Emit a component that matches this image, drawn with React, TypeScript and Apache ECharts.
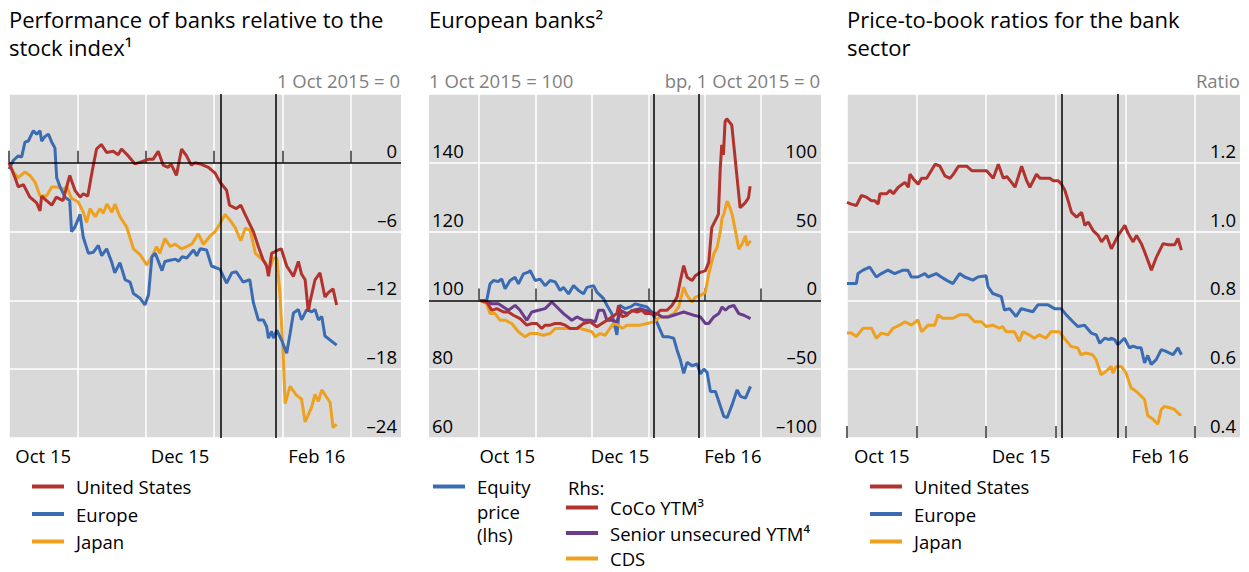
import React, { useEffect, useRef } from 'react';
import * as echarts from 'echarts';

const FONT = '"Open Sans", "Noto Sans", "DejaVu Sans", sans-serif';
const RED = '#b2322d';
const BLUE = '#3b6cb3';
const ORANGE = '#eea01f';
const PURPLE = '#6a3c8c';
const GREY_BG = '#d9d9d9';

// x unit: days since 1 Oct 2015 (months evenly spaced at 30.4)
const monthTicks = [0, 30.4, 60.8, 91.2, 121.6, 152];
const monthLabelPos = [15.2, 76, 136.8];
const monthLabels = ['Oct 15', 'Dec 15', 'Feb 16'];
const eventDays = [94, 118.5]; // 4 Jan 2016, 29 Jan 2016

// Panel 1: performance relative to stock index (1 Oct 2015 = 0)
const usPerf = [[0,0],[2.7,-1.3],[4.1,-2.1],[6.4,-1.9],[9.3,-3.0],[12.3,-3.5],[13.8,-4.2],[14.5,-2.9],[16.7,-3.3],[19,-3.7],[21,-3.0],[24,-3.3],[27,-1.1],[29.3,-2.4],[31.6,-3.0],[33,-2.7],[35,-2.9],[37,-0.7],[38.9,1.2],[41,1.6],[43.4,0.9],[46.3,1.0],[48.5,0.7],[50,1.2],[53,0.6],[56,-0.1],[59,0.1],[61.9,0.3],[64,0.3],[66.3,1.0],[68.5,-0.2],[70.7,-0.4],[72,-0.1],[74.4,-1.1],[76.7,1.2],[78.9,0.6],[81,-0.2],[82.7,0],[84.9,-0.1],[88.6,-0.4],[91.6,-0.9],[93.8,-1.7],[96.7,-2.4],[98,-3.7],[101,-4.0],[103,-3.7],[104.9,-4.5],[108.6,-6.0],[110.8,-7.3],[113,-8.5],[114.5,-9.0],[115.3,-9.9],[116.7,-7.9],[119.7,-7.6],[121,-7.5],[123.4,-9.0],[126.4,-9.9],[128.6,-8.6],[130,-9.7],[131.6,-10.2],[133,-13.0],[133.8,-12.1],[136,-10.2],[138.2,-9.6],[140.4,-11.7],[142,-11.3],[144,-11.0],[145.6,-12.4]];
const euPerf = [[0,-0.55],[1.9,0.2],[4.1,0.6],[5.6,0.5],[7.1,1.8],[8.6,1.9],[10.8,2.8],[12.3,2.5],[13.8,2.8],[14.5,1.9],[16,2.3],[17.5,2.5],[19,1.8],[20.4,1.3],[21.2,-1.3],[22.7,-2.1],[24.9,-3.0],[27,-3.3],[27.8,-6.0],[29.3,-5.6],[31.6,-4.5],[33,-6.5],[35.3,-7.9],[37.5,-7.8],[39.7,-7.2],[41.2,-8.1],[43.4,-7.5],[45.7,-8.7],[47,-9.6],[49.3,-8.7],[51.6,-10.2],[53.8,-10.4],[55.3,-11.4],[58.2,-11.8],[60.4,-12.4],[62,-11.5],[63.5,-8.2],[65,-7.9],[66.4,-8.6],[68,-9.4],[69.3,-8.6],[71.6,-8.5],[74,-8.4],[75.3,-8.6],[77,-8.2],[79,-8.3],[82,-7.6],[83.4,-8.1],[85,-7.5],[87.8,-7.6],[90,-9.0],[93.8,-9.3],[96.7,-10.5],[99,-9.6],[101,-9.5],[104,-10.4],[107,-10.2],[108.6,-12.2],[110.8,-13.7],[113,-13.7],[114.5,-14.3],[115.3,-15.3],[116.7,-14.7],[117.5,-15.3],[119,-14.6],[121.2,-15.5],[123.4,-16.6],[124.9,-14.9],[126.4,-13.1],[128.6,-12.8],[130,-13.7],[132.3,-12.8],[134.5,-13.0],[136,-12.8],[137.5,-13.7],[139,-13.4],[140.4,-15.1],[145.6,-15.9]];
const jpPerf = [[0,0],[1.9,-0.8],[4.1,-1.3],[7.1,-0.8],[9.3,-1.1],[11.6,-1.7],[13.8,-2.9],[16.7,-2.9],[19,-2.1],[21.2,-2.1],[24,-2.3],[25.7,-2.1],[27.8,-3.1],[30.7,-3.4],[33,-4.3],[34.5,-5.2],[36,-4.0],[38.3,-4.7],[40.4,-4.0],[41.9,-4.4],[43.5,-3.6],[45.7,-4.3],[47.1,-3.6],[49.3,-4.7],[52.3,-5.6],[55.3,-7.5],[58.2,-8.0],[61.2,-8.9],[63.5,-8.2],[65.6,-7.3],[67,-7.9],[69.3,-6.6],[71.6,-7.3],[73.8,-7.1],[76.7,-7.5],[79,-7.3],[81.2,-7.1],[84.1,-6.2],[86.4,-7.1],[89.3,-6.4],[91.6,-6.0],[93.8,-5.3],[96,-4.5],[98.2,-5.0],[100.4,-5.6],[103,-6.8],[105,-5.7],[107.2,-5.9],[109.5,-7.9],[111.7,-8.3],[114,-8.7],[115.3,-9.6],[117.5,-8.3],[119,-8.3],[120.4,-11.4],[121.9,-16.9],[122.7,-21.0],[124.9,-19.5],[127.9,-20.3],[130,-20.6],[131.6,-22.6],[134.5,-21.3],[136,-20.2],[137.5,-20.8],[139,-19.8],[142.7,-20.9],[144,-23.1],[145.6,-22.8]];

// Panel 2: European banks
const equityPrice = [[0.5,100],[4.1,100],[5.9,104.8],[7.7,105.8],[10.4,105.5],[12.2,106.2],[14,103.4],[16.7,105.8],[19.4,106.7],[21.2,104.8],[23.9,107.7],[26.6,108.2],[27.5,108.7],[30.2,105.8],[32.9,106.2],[35.6,104.3],[38.3,105.8],[41,105.4],[43.7,102.9],[45.5,103.8],[48.2,101.9],[50.9,104.3],[53.6,102.9],[56.3,101.9],[58.1,103.8],[61.7,104.3],[63.5,102.4],[67.1,100.5],[68.9,98.6],[71.5,96.2],[74.3,90.0],[75.8,98.6],[78.8,97.6],[81.5,98.1],[84.2,99.0],[86.9,98.6],[90.5,98.1],[93,96.6],[95.8,93.7],[99.2,89.4],[102.2,89.4],[104.9,89.0],[106.7,85.6],[108.5,82.7],[110.3,78.8],[112.1,82.0],[114.8,81.0],[117.5,81.5],[119.3,78.6],[121.1,80.0],[122.9,79.1],[124.7,73.5],[127.4,73.5],[130.1,69.2],[131.9,66.3],[133.7,65.9],[136.4,69.7],[139.1,74.0],[140.9,72.1],[143.6,71.6],[146.3,75.0]];
const cocoYtm = [[0.5,0],[4.1,-1.2],[6.8,-7.2],[9.5,-6],[13.1,-8.4],[15.8,-8.4],[18.5,-10.8],[22.1,-13.2],[25.7,-18],[28.4,-16.8],[31.1,-16.8],[33.8,-20.4],[35.6,-18],[38.3,-18],[41,-16.8],[43.7,-16.8],[46.4,-18],[49.1,-20.4],[52.7,-20.4],[56.3,-16.8],[59.9,-15.6],[63.5,-19.2],[66.2,-16.8],[68.9,-14.4],[71.6,-12],[74.3,-9.6],[75.2,-3.6],[77,-12],[79.7,-10.8],[82.4,-7.2],[85.1,-8.4],[87.8,-7.2],[89.6,-9.6],[92.3,-9.6],[95,-10.8],[97.7,-7.2],[101.3,-7.2],[104,-3.6],[106.7,2.4],[108.5,14.4],[110.3,25.3],[112.1,16.9],[114.8,14.4],[116.6,18],[119.3,20.4],[122,21.6],[123.8,27.6],[125.4,52.9],[129,62.5],[130,96],[130.8,113],[131.7,105.8],[132.6,130],[133.5,132],[136.2,127.5],[138.9,91.4],[140.7,67.3],[143.4,70.9],[145.2,74.5],[146.1,83]];
const seniorYtm = [[0.5,0],[4.1,-1.2],[6.8,-2.4],[10.4,-2.4],[13.1,-4.8],[15.8,-7.2],[19.4,-3.6],[22.1,-7.2],[25.7,-14.4],[28.4,-8.4],[32,-7.2],[35.6,-6],[39.2,-1.2],[41.9,-4.8],[45.5,-9.6],[50,-14.4],[52.7,-12],[56.3,-14.4],[59.9,-14.4],[62.6,-15.6],[64.4,-7.2],[67.1,-7.2],[68.9,-14.4],[71.6,-14.4],[74.3,-15.6],[76.1,-7.2],[79.7,-9.6],[83.3,-7.2],[86.9,-6],[89.6,-7.2],[92.3,-8.4],[95.9,-9.6],[98.6,-12],[102.2,-12],[104.9,-10.8],[107.6,-9.6],[110.3,-8.4],[113,-9.6],[115.7,-10.8],[119.3,-12],[122,-16.8],[123.8,-16.8],[126.5,-12],[129.2,-9.6],[131,-4.8],[132.8,-7.2],[134.6,-4.8],[137.3,-3.6],[140,-9.6],[142.7,-10.8],[146.3,-13.2]];
const cds = [[0.5,0],[4.1,-2.4],[5.9,-9.6],[8.6,-9.6],[11.3,-14.4],[14,-14.4],[17.6,-16.8],[21.2,-22.8],[24.8,-26.5],[27.5,-24.1],[31.1,-24.1],[34.7,-25.3],[38.3,-24.1],[41,-20.4],[43.7,-20.4],[47.3,-20.4],[50.9,-20.4],[54.5,-20.4],[58.1,-21.7],[60.8,-22.8],[62.6,-26.5],[65.3,-24.1],[68,-25.3],[69.8,-21.7],[72.5,-16.8],[75.2,-18],[77,-20.4],[79.7,-18],[83.3,-18],[86.9,-18],[90.5,-16.8],[94.1,-15.6],[97.7,-12],[101.3,-12],[104.9,-9.6],[107.6,-4.8],[110.3,9.6],[112.1,3.6],[114.8,-1.2],[116.6,2.4],[119.3,3.6],[122,6],[123.8,19.2],[126.5,33.7],[128.3,38.5],[130.1,50.5],[131,60.1],[131.9,62.5],[133.7,72.2],[134.6,69.8],[136.4,62.5],[138.2,50.5],[140,37.3],[141.8,41],[143.6,46.9],[144.5,39.7],[146.3,43.3]];

// Panel 3: price-to-book ratios
const usPb = [[0,1.085],[1.9,1.08],[4.1,1.076],[6.3,1.105],[8.5,1.1],[10.7,1.09],[12.1,1.09],[13.6,1.08],[14.4,1.11],[17.3,1.11],[18.8,1.12],[20.2,1.11],[22.4,1.129],[25.3,1.143],[26.8,1.129],[27.5,1.167],[29,1.153],[31.1,1.138],[32.6,1.155],[34.8,1.155],[38.5,1.196],[40.6,1.19],[42.8,1.162],[45,1.155],[46.5,1.167],[48.7,1.19],[52.3,1.19],[54.5,1.177],[61,1.177],[63.9,1.155],[66.1,1.196],[68.3,1.155],[69.8,1.16],[71.9,1.143],[73.4,1.129],[76.3,1.19],[78.5,1.148],[79.9,1.129],[82.8,1.167],[84.3,1.155],[88.6,1.155],[90.1,1.148],[92.3,1.148],[93.7,1.138],[95.2,1.12],[96.6,1.09],[98.1,1.056],[100.3,1.042],[102.5,1.056],[103.9,1.018],[105.4,1.028],[107.5,1.003],[109.7,0.989],[111.2,0.97],[113.4,0.989],[115.5,0.95],[118.5,0.989],[121.4,1.018],[122.8,0.995],[125,0.97],[126.5,0.989],[128.6,0.965],[130.1,0.94],[133,0.888],[135.2,0.926],[138.1,0.965],[140.3,0.962],[143.2,0.962],[144.6,0.98],[146.1,0.946]];
const euPb = [[0,0.849],[4.1,0.849],[4.8,0.878],[7,0.888],[9.9,0.897],[12.8,0.868],[15,0.878],[17.9,0.888],[20.8,0.878],[24.5,0.888],[26.6,0.888],[28.1,0.868],[31,0.868],[34,0.878],[35.4,0.868],[39,0.878],[41.2,0.868],[43.4,0.859],[46.3,0.849],[49.2,0.878],[51.4,0.868],[55,0.859],[57.2,0.868],[60.8,0.872],[61.6,0.84],[63.7,0.82],[67.4,0.811],[68.8,0.772],[71,0.776],[73.9,0.753],[76.1,0.776],[78.3,0.772],[81.2,0.767],[83.4,0.787],[87.8,0.787],[90.7,0.776],[93.6,0.776],[95.8,0.758],[98.7,0.738],[100.9,0.724],[103.8,0.728],[106.7,0.705],[108.9,0.7],[110.4,0.676],[112.6,0.69],[114.7,0.686],[115.4,0.69],[116.9,0.686],[118.3,0.671],[121.2,0.69],[123.4,0.662],[124.9,0.667],[127,0.662],[128.5,0.662],[130,0.618],[131.4,0.64],[132.9,0.614],[135.1,0.628],[137.3,0.657],[139.4,0.652],[142.4,0.642],[144.6,0.662],[146.1,0.642]];
const jpPb = [[0,0.705],[1.9,0.705],[4.1,0.695],[7,0.719],[10.7,0.719],[12.8,0.69],[15,0.705],[17.9,0.7],[20.1,0.719],[23,0.728],[25.3,0.738],[28.1,0.728],[31,0.743],[32.6,0.709],[35.4,0.728],[38.3,0.728],[39.8,0.758],[41.9,0.748],[46.3,0.748],[49.2,0.758],[52.9,0.758],[55.8,0.738],[58.7,0.738],[60.8,0.724],[63.7,0.728],[66.6,0.719],[68,0.724],[69.5,0.709],[73.1,0.709],[75.3,0.681],[76.8,0.709],[79.6,0.7],[81.8,0.69],[84,0.7],[86.9,0.69],[89.1,0.709],[92.8,0.709],[94.9,0.69],[97.9,0.666],[100.8,0.662],[102.2,0.642],[104.4,0.647],[107.3,0.642],[108.8,0.628],[111,0.584],[113.2,0.594],[115.4,0.608],[116.2,0.589],[117.6,0.608],[119.8,0.608],[121.9,0.589],[124.1,0.546],[126.3,0.536],[128.5,0.522],[130,0.512],[131.4,0.465],[133.6,0.455],[135.8,0.44],[137.3,0.483],[138.7,0.492],[140.9,0.488],[143.1,0.483],[145.3,0.468],[146.1,0.468]];

const TEXT = 18.5;

function xAxisFor(gridIndex: number, min: number, max: number) {
  return {
    type: 'value', gridIndex, min, max,
    axisLine: { show: false },
    axisTick: { show: true, inside: true, length: 12, customValues: monthTicks, lineStyle: { color: '#333', width: 1.5 } },
    axisLabel: {
      customValues: monthLabelPos,
      formatter: (v: number) => {
        const i = monthLabelPos.findIndex((p) => Math.abs(p - v) < 0.01);
        return i >= 0 ? monthLabels[i] : '';
      },
      fontSize: TEXT, color: '#000', fontFamily: FONT, margin: 8,
    },
    splitLine: { show: true, lineStyle: { color: '#fff', width: 1.5 } },
  };
}

const dash = (v: number, digits = 0) => (v < 0 ? '\u2013' + (-v).toFixed(digits) : v.toFixed(digits));

function yAxisFor(gridIndex: number, position: string, min: number, max: number, interval: number, fmt: (v: number) => string, margin: number, split = true) {
  return {
    type: 'value', gridIndex, position, min, max, interval,
    axisLine: { show: false }, axisTick: { show: false },
    axisLabel: {
      inside: true, showMaxLabel: false, verticalAlign: 'bottom', margin,
      padding: [0, 0, 3, 0],
      formatter: fmt, fontSize: TEXT, color: '#000', fontFamily: FONT,
    },
    splitLine: { show: split, lineStyle: { color: '#fff', width: 1.5 } },
  };
}

function line(name: string, data: number[][], color: string, xAxisIndex: number, yAxisIndex: number, extra: any = {}) {
  return {
    type: 'line', name, data, xAxisIndex, yAxisIndex,
    showSymbol: false, symbol: 'none', color,
    lineStyle: { color, width: 3 },
    z: 3,
    ...extra,
  };
}

function refLines(withZero: boolean) {
  const data: any[] = eventDays.map((d) => ({ xAxis: d }));
  if (withZero) data.push({ yAxis: 0 });
  return {
    markLine: {
      silent: true, symbol: ['none', 'none'], label: { show: false },
      lineStyle: { color: '#000', width: 1.5, type: 'solid' },
      emphasis: { disabled: true },
      data,
    },
  };
}

const legendBase = {
  orient: 'vertical', itemGap: 8.5, itemWidth: 32, itemHeight: 4, icon: 'rect', padding: 0,
  selectedMode: false, height: 120,
  textStyle: { fontSize: TEXT, lineHeight: 18, color: '#000', fontFamily: FONT, padding: [0, 0, 0, 7] },
};

const titleStyle = { fontSize: 22, fill: '#000', fontFamily: FONT, verticalAlign: 'middle', align: 'left' };
const unitStyle = { fontSize: TEXT, fill: '#808080', fontFamily: FONT, verticalAlign: 'middle' };
const textStyle = { fontSize: TEXT, fill: '#000', fontFamily: FONT, verticalAlign: 'middle' };

export default function App() {
  const ref = useRef<HTMLDivElement>(null);
  useEffect(() => {
    if (!ref.current) return;
    const chart = echarts.init(ref.current, null, { renderer: 'svg' });
    const gridBase = { show: true, backgroundColor: GREY_BG, borderWidth: 0, top: 94, height: 344 };
    chart.setOption({
      animation: false,
      textStyle: { fontFamily: FONT },
      grid: [
        { ...gridBase, left: 9, width: 392 },
        { ...gridBase, left: 429, width: 392 },
        { ...gridBase, left: 847, width: 393 },
      ],
      xAxis: [xAxisFor(0, 0, 174.2), xAxisFor(1, -27, 184.3), xAxisFor(2, 0, 171.7)],
      yAxis: [
        yAxisFor(0, 'right', -24, 6, 6, (v) => dash(v), 4),
        yAxisFor(1, 'left', 60, 160, 20, (v) => v.toFixed(0), 3),
        yAxisFor(1, 'right', -100, 150, 50, (v) => dash(v), 4, false),
        yAxisFor(2, 'right', 0.4, 1.4, 0.2, (v) => v.toFixed(1), 4),
      ],
      legend: [
        { ...legendBase, data: ['United States', 'Europe', 'Japan'], left: 32, top: 477 },
        { ...legendBase, data: ['Equity price (lhs)'], left: 433, top: 477, formatter: () => 'Equity' },
        { ...legendBase, data: ['CoCo YTM\u00b3', 'Senior unsecured YTM\u2074', 'CDS'], left: 566, top: 498, itemGap: 6.5 },
        { ...legendBase, data: ['United States', 'Europe', 'Japan'], left: 870, top: 477 },
      ],
      series: [
        line('Japan', jpPerf, ORANGE, 0, 0, refLines(true)),
        line('Europe', euPerf, BLUE, 0, 0),
        line('United States', usPerf, RED, 0, 0),

        line('Equity price (lhs)', equityPrice, BLUE, 1, 1),
        line('CDS', cds, ORANGE, 1, 2, refLines(true)),
        line('Senior unsecured YTM\u2074', seniorYtm, PURPLE, 1, 2),
        line('CoCo YTM\u00b3', cocoYtm, RED, 1, 2),

        line('Japan', jpPb, ORANGE, 2, 3, refLines(false)),
        line('Europe', euPb, BLUE, 2, 3),
        line('United States', usPb, RED, 2, 3),
      ],
      graphic: [
        { type: 'text', x: 9, y: 19, style: { ...titleStyle, text: 'Performance of banks relative to the' } },
        { type: 'text', x: 9, y: 47, style: { ...titleStyle, text: 'stock index\u00b9' } },
        { type: 'text', x: 429, y: 19, style: { ...titleStyle, text: 'European banks\u00b2' } },
        { type: 'text', x: 847, y: 19, style: { ...titleStyle, text: 'Price-to-book ratios for the bank' } },
        { type: 'text', x: 847, y: 47, style: { ...titleStyle, text: 'sector' } },
        { type: 'text', x: 400, y: 80, style: { ...unitStyle, text: '1 Oct 2015 = 0', align: 'right' } },
        { type: 'text', x: 429, y: 80, style: { ...unitStyle, text: '1 Oct 2015 = 100', align: 'left' } },
        { type: 'text', x: 820, y: 80, style: { ...unitStyle, text: 'bp, 1 Oct 2015 = 0', align: 'right' } },
        { type: 'text', x: 1240, y: 80, style: { ...unitStyle, text: 'Ratio', align: 'right' } },
        { type: 'text', x: 477, y: 511, style: { ...textStyle, text: 'price', align: 'left' } },
        { type: 'text', x: 477, y: 534, style: { ...textStyle, text: '(lhs)', align: 'left' } },
        { type: 'text', x: 568, y: 487, style: { ...textStyle, text: 'Rhs:', align: 'left' } },
      ],
    });
    return () => chart.dispose();
  }, []);
  return <div ref={ref} style={{ position: 'absolute', left: 0, top: 0, width: 1249, height: 572 }} />;
}
